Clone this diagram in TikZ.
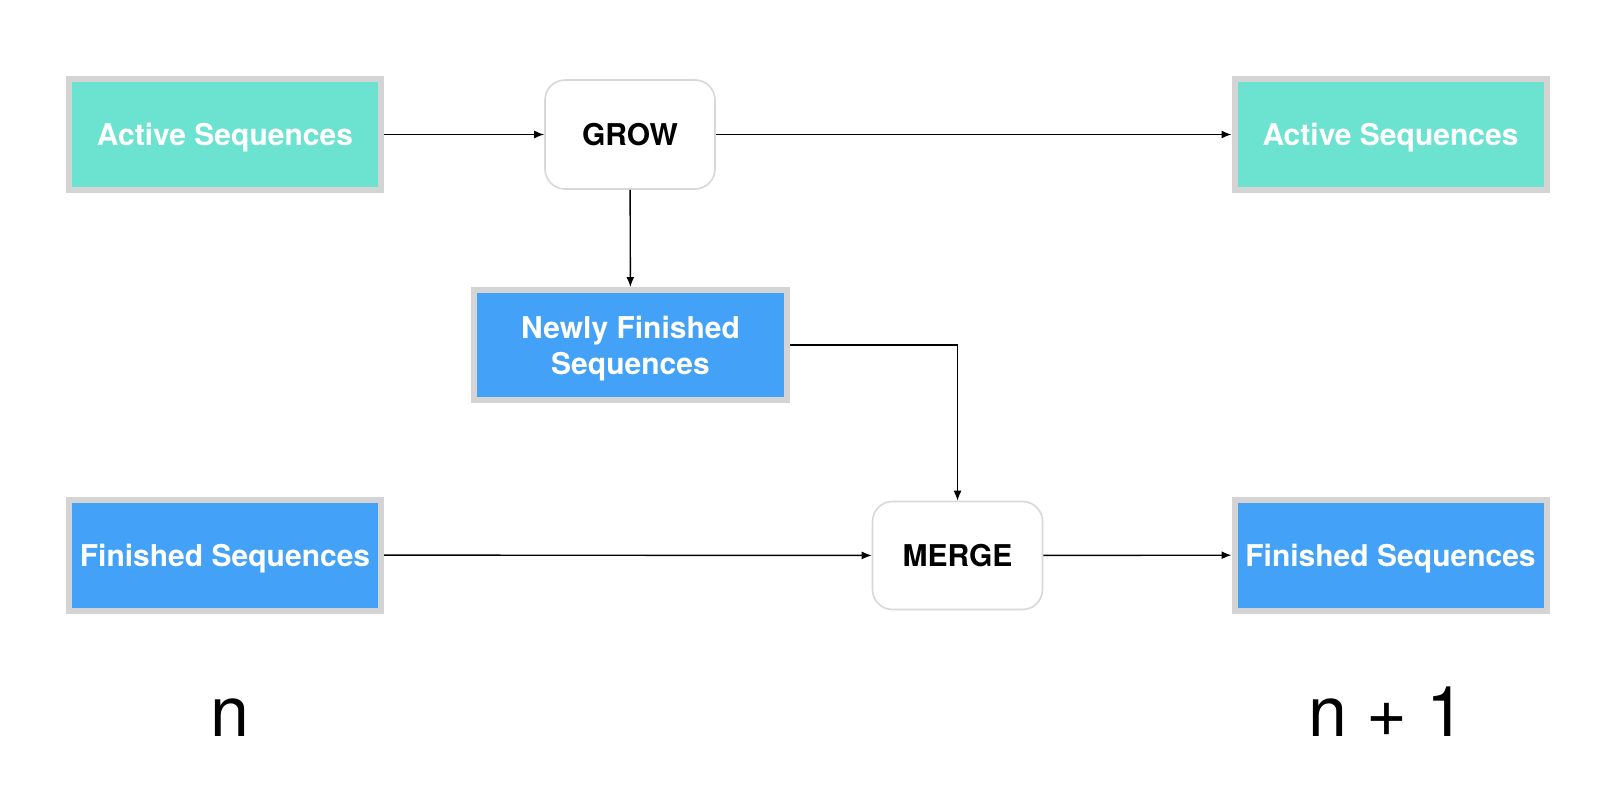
\documentclass[tikz,border=0pt]{standalone}
\usepackage{fontspec}
\setmainfont{TeX Gyre Heros}
\usetikzlibrary{arrows.meta}
\definecolor{teal1}{HTML}{6BE3D0}
\definecolor{blue1}{HTML}{43A2F7}
\definecolor{gray1}{HTML}{D4D4D4}
\definecolor{gray2}{HTML}{D8D8D8}
\begin{document}
\begin{tikzpicture}[x=0.5pt,y=-0.5pt,
  box/.style={draw=gray1, line width=3pt, minimum width=156pt, minimum height=55.5pt, inner sep=0pt,
    font=\fontsize{15}{18}\selectfont\bfseries, text=white, align=center, text depth=0pt},
  active/.style={box, fill=teal1},
  fin/.style={box, fill=blue1},
  op/.style={draw=gray2, line width=0.8pt, rounded corners=10pt, fill=white, minimum width=85pt,
    minimum height=54.5pt, inner sep=0pt, font=\fontsize{15}{18}\selectfont\bfseries},
  arr/.style={-{Latex[length=5pt,width=4pt]}, line width=0.7pt},
  lab/.style={font=\fontsize{35}{42}\selectfont, inner sep=0pt, anchor=base}]
\useasboundingbox (0,0) rectangle (1622,810);
\fill[white] (0,0) rectangle (1622,810);
\node[active] (a1) at (225,134.5) {Active Sequences};
\node[active] (a2) at (1390.5,134.5) {Active Sequences};
\node[op] (grow) at (630,134.5) {GROW};
\node[fin, minimum width=156.5pt, minimum height=55pt] (nf) at (630.5,345) {Newly Finished\\Sequences};
\node[fin] (f1) at (225,555) {Finished Sequences};
\node[fin] (f2) at (1390.5,555) {Finished Sequences};
\node[op, minimum height=54pt] (merge) at (957.5,555.5) {MERGE};
\draw[arr] (a1) -- (grow);
\draw[arr] (grow) -- (a2);
\draw[arr] (grow) -- (nf);
\draw[arr] (nf.east) -| (merge.north);
\draw[arr] (f1) -- (merge);
\draw[arr] (merge) -- (f2);
\node[lab] (n) at (230,736) {n};
\node[lab] (n1) at (1387,736) {n + 1};
\end{tikzpicture}
\end{document}
